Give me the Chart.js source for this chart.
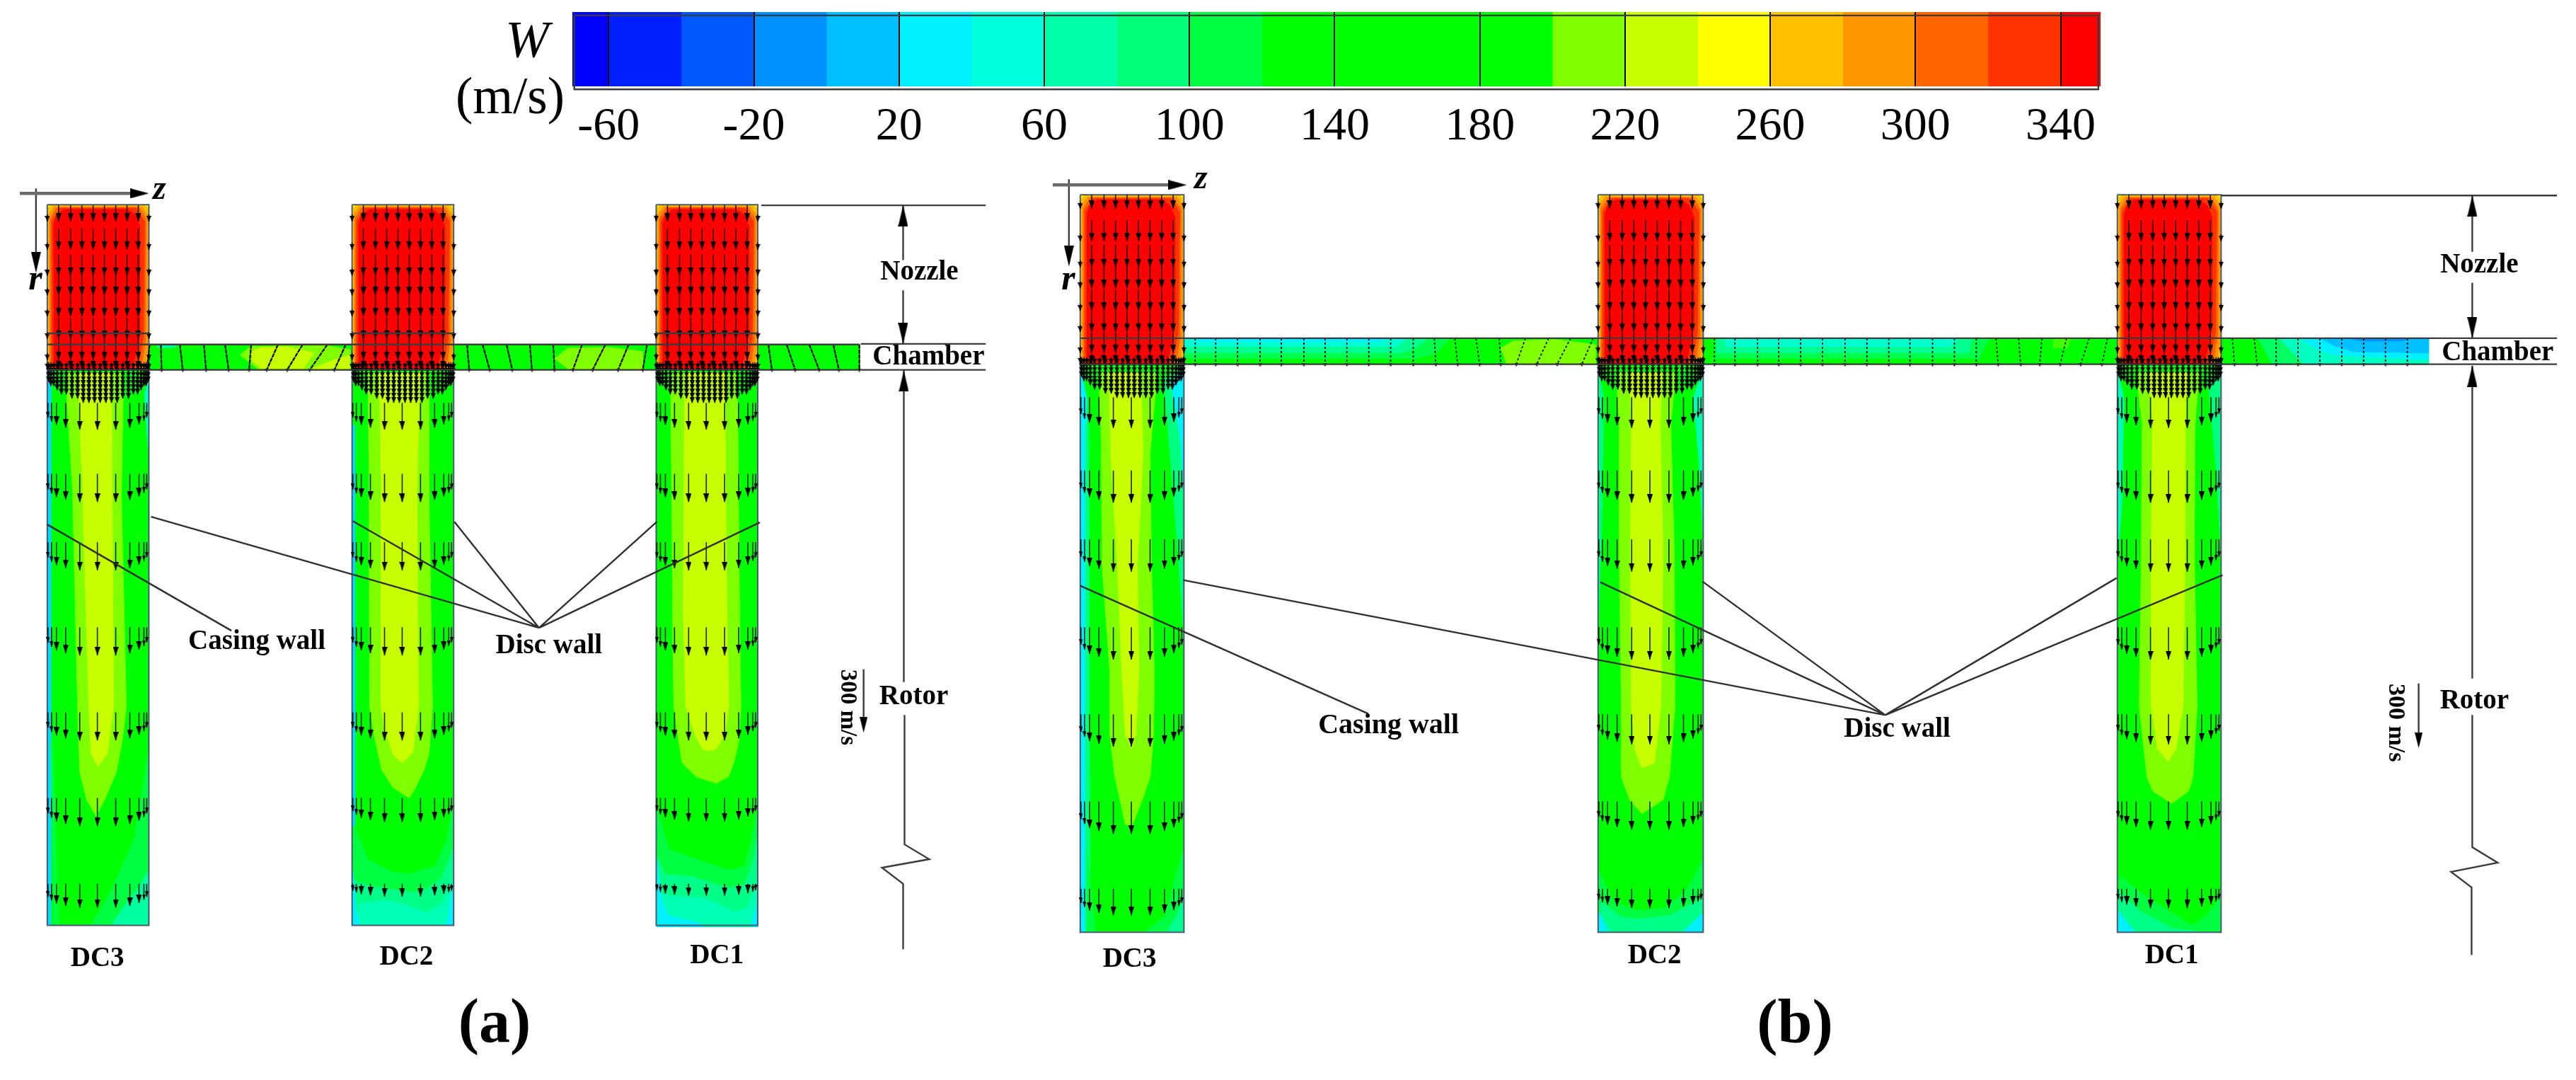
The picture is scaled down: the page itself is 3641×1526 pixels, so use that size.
<!DOCTYPE html>
<html>
<head>
<meta charset="utf-8">
<title>W contours</title>
<script src="https://cdn.jsdelivr.net/npm/chart.js@4/dist/chart.umd.js"></script>
<style>
  html, body { margin: 0; background: #fff; overflow: hidden; }
  canvas { position: absolute; left: 0; top: 0; }
</style>
</head>
<body>
<canvas id="barChart" width="3641" height="260"></canvas>
<canvas id="fieldChart" width="3641" height="1526"></canvas>
<script>
// colour scale
const bandEdges = [-70, -60, -40, -20, 0, 20, 40, 60, 80, 100, 120, 140, 160, 180, 200, 220, 240, 260, 280, 300, 320, 340, 351];
const bandColors = ['#0000ff', '#0020ff', '#0058ff', '#0090ff', '#00c0ff', '#00f0ff', '#00ffdc', '#00ffaa', '#00ff78', '#00ff40',
  '#00ff00', '#00ff00', '#00ff00', '#00ff00', '#7fff00', '#c8ff00', '#ffff00', '#ffc000', '#ff9600', '#ff6400', '#ff3200', '#ff0000'];
const colorTicks = [-60, -20, 20, 60, 100, 140, 180, 220, 260, 300, 340];

// column walls, panel (a) and (b)
const aWalls = [[62, 206], [494, 638], [925, 1069]];
const bWalls = [[1526, 1673], [2260, 2409], [2996, 3143]];

// nozzle contours, offset from column left / nozzle top
const nozzleLayers = [
  ['#ffff00', [[0, 0], [144, 0], [144, 234], [0, 234]]],
  ['#ffc000', [[1, 5], [6, 1], [138, 1], [143, 5], [143, 215], [141, 234], [1, 234]]],
  ['#ff9600', [[2, 14], [10, 3], [134, 3], [142, 14], [142, 205], [138, 234], [2, 234]]],
  ['#ff6400', [[4, 20], [14, 4], [130, 4], [140, 20], [139, 195], [133, 234], [4, 234]]],
  ['#ff3200', [[6, 24], [18, 5], [126, 5], [138, 24], [136, 190], [128, 234], [6, 234]]],
  ['#ff0000', [[9, 30], [13, 15], [24, 7], [114, 7], [125, 15], [131, 30], [131, 185], [126, 210], [120, 234], [9, 234]]]
];

// rotor contours, panel (a)
const a3Rotor = [
  ['#00d8ff', [[62, 520], [67, 520], [67, 1311], [62, 1311]]],
  ['#00ffc0', [[206, 530], [200, 555], [204, 620], [206, 640]]],
  ['#00ff40', [[67, 1050], [72, 1311], [78, 1311], [70, 1050]]],
  ['#7fff00', [[87, 525], [170, 525], [167, 700], [174, 1000], [168, 1050], [160, 1093], [143, 1133], [131, 1155], [118, 1133], [108, 1093], [105, 1000], [98, 700]]],
  ['#c8ff00', [[105, 525], [153, 525], [154, 700], [156, 1000], [147, 1067], [134, 1085], [124, 1067], [121, 1000], [112, 700]]],
  ['#00ff40', [[124, 1311], [153, 1260], [185, 1190], [200, 1100], [206, 1060], [206, 1311]]],
  ['#00ffa0', [[153, 1311], [170, 1285], [190, 1260], [206, 1233], [206, 1311]]]
];
const a2Rotor = [
  ['#00d8ff', [[494, 600], [498, 600], [498, 1311], [494, 1311]]],
  ['#7fff00', [[516, 525], [603, 525], [603, 700], [608, 1000], [603, 1067], [596, 1090], [584, 1115], [575, 1130], [552, 1115], [536, 1090], [525, 1040], [519, 1000], [518, 700]]],
  ['#c8ff00', [[532, 525], [590, 525], [586, 700], [588, 1000], [580, 1065], [565, 1080], [552, 1068], [540, 1030], [535, 1000], [535, 700]]],
  ['#00ff40', [[497, 1170], [516, 1217], [550, 1235], [574, 1238], [612, 1227], [628, 1190], [638, 1130], [638, 1311], [494, 1311], [494, 1170]]],
  ['#00ff88', [[494, 1248], [529, 1257], [560, 1262], [590, 1265], [620, 1245], [638, 1200], [638, 1311], [494, 1311]]],
  ['#00ffb4', [[500, 1311], [505, 1280], [540, 1275], [574, 1283], [600, 1293], [622, 1280], [638, 1240], [638, 1311]]],
  ['#00f0ff', [[494, 1220], [500, 1290], [505, 1311], [494, 1311]]],
  ['#00f0ff', [[638, 1250], [630, 1300], [628, 1311], [638, 1311]]]
];
const a1Rotor = [
  ['#7fff00', [[945, 525], [1040, 525], [1043, 850], [1045, 1000], [1042, 1050], [1035, 1080], [1027, 1100], [1010, 1109], [982, 1100], [962, 1080], [957, 1050], [950, 1000], [948, 850]]],
  ['#c8ff00', [[965, 525], [1022, 525], [1025, 850], [1028, 1000], [1022, 1040], [1010, 1060], [1000, 1063], [990, 1060], [980, 1040], [967, 1000], [963, 850]]],
  ['#00ff40', [[928, 1150], [943, 1203], [983, 1217], [1030, 1233], [1050, 1227], [1060, 1190], [1067, 1150], [1069, 1120], [1069, 1313], [926, 1313], [926, 1150]]],
  ['#00ff88', [[928, 1217], [937, 1238], [977, 1242], [1027, 1258], [1050, 1253], [1063, 1217], [1069, 1183], [1069, 1313], [926, 1313], [926, 1217]]],
  ['#00ffb4', [[930, 1263], [937, 1268], [993, 1272], [1037, 1292], [1053, 1287], [1065, 1260], [1069, 1243], [1069, 1313], [926, 1313], [926, 1263]]],
  ['#00f0ff', [[926, 1217], [933, 1277], [943, 1298], [987, 1308], [993, 1313], [926, 1313]]],
  ['#00f0ff', [[1069, 1280], [1063, 1297], [1060, 1313], [1069, 1313]]]
];

// rotor contours, panel (b)
const b3Rotor = [
  ['#00f0ff', [[1526, 513], [1535, 560], [1535, 1321], [1526, 1321]]],
  ['#00ff80', [[1533, 600], [1538, 600], [1540, 1321], [1533, 1321]]],
  ['#00ff80', [[1673, 513], [1645, 535], [1650, 600], [1660, 720], [1673, 900]]],
  ['#00f0ff', [[1673, 513], [1655, 540], [1660, 570], [1668, 620], [1673, 700]]],
  ['#7fff00', [[1552, 525], [1635, 525], [1625, 640], [1627, 800], [1631, 950], [1630, 1040], [1625, 1100], [1615, 1130], [1600, 1168], [1590, 1168], [1582, 1130], [1575, 1100], [1568, 1040], [1568, 950], [1557, 800], [1556, 640]]],
  ['#c8ff00', [[1566, 525], [1612, 525], [1615, 640], [1607, 800], [1609, 950], [1605, 1040], [1599, 1060], [1590, 1040], [1585, 950], [1579, 800], [1569, 640]]],
  ['#00ff40', [[1617, 1321], [1647, 1297], [1663, 1233], [1673, 1200], [1673, 1321]]],
  ['#00ff90', [[1648, 1321], [1663, 1297], [1673, 1270], [1673, 1321]]],
  ['#00ff40', [[1535, 1203], [1548, 1321], [1535, 1321]]]
];
const b2Rotor = [
  ['#00ff80', [[2260, 520], [2268, 560], [2266, 720], [2260, 900]]],
  ['#00ffb0', [[2409, 520], [2395, 560], [2403, 650], [2409, 760]]],
  ['#7fff00', [[2285, 525], [2370, 525], [2363, 600], [2368, 780], [2369, 1000], [2361, 1100], [2352, 1133], [2322, 1152], [2305, 1133], [2293, 1100], [2293, 1000], [2290, 780], [2290, 600]]],
  ['#c8ff00', [[2304, 525], [2350, 525], [2348, 600], [2352, 780], [2349, 1000], [2340, 1080], [2322, 1087], [2312, 1060], [2307, 1000], [2306, 780], [2307, 600]]],
  ['#00ff40', [[2261, 1233], [2281, 1277], [2316, 1290], [2352, 1287], [2387, 1260], [2408, 1217], [2409, 1320], [2260, 1320]]],
  ['#00ff88', [[2264, 1277], [2293, 1300], [2316, 1302], [2363, 1297], [2399, 1277], [2408, 1267], [2409, 1320], [2260, 1320]]],
  ['#00f0ff', [[2261, 1293], [2275, 1318], [2260, 1320]]],
  ['#00f0ff', [[2408, 1293], [2381, 1320], [2409, 1320]]]
];
const b1Rotor = [
  ['#00ffb0', [[2996, 520], [3005, 560], [3003, 700], [2996, 800]]],
  ['#00ff80', [[3143, 520], [3125, 540], [3135, 650], [3143, 780]]],
  ['#7fff00', [[3022, 525], [3112, 525], [3106, 600], [3105, 780], [3109, 1000], [3103, 1100], [3097, 1120], [3073, 1138], [3046, 1120], [3038, 1100], [3027, 1000], [3030, 780], [3031, 600]]],
  ['#c8ff00', [[3040, 525], [3094, 525], [3092, 600], [3092, 780], [3089, 1000], [3079, 1060], [3068, 1078], [3053, 1060], [3044, 1000], [3044, 780], [3046, 600]]],
  ['#00ff40', [[2999, 1240], [3032, 1267], [3103, 1312], [3126, 1293], [3143, 1267], [3143, 1320], [2996, 1320]]],
  ['#00ff88', [[2997, 1260], [3027, 1290], [3073, 1315], [3108, 1320], [2996, 1320]]],
  ['#00f0ff', [[2997, 1290], [3020, 1320], [2996, 1320]]]
];

// chamber contours
const aChamber = [
  ['#00ff00', [[206, 485], [1213, 485], [1213, 521], [206, 521]]],
  ['#00ff90', [[215, 485], [250, 485], [240, 490], [220, 490]]],
  ['#7fff00', [[335, 500], [350, 488], [400, 487], [460, 487], [491, 492], [491, 520], [430, 520], [360, 520]]],
  ['#c8ff00', [[351, 495], [365, 489], [400, 488], [440, 497], [425, 519], [365, 519], [352, 508]]],
  ['#c8ff00', [[440, 518], [470, 506], [491, 500], [491, 520], [440, 520]]],
  ['#7fff00', [[781, 505], [800, 490], [860, 489], [906, 495], [906, 520], [800, 520]]]
];
const bChamber = [
  ['#00ff00', [[1673, 476], [3437, 476], [3437, 513], [1673, 513]]],
  ['#00ff48', [[1673, 476], [2050, 476], [2030, 498], [2000, 505], [1673, 505]]],
  ['#00ff90', [[1673, 476], [2020, 476], [2000, 490], [1980, 497], [1673, 497]]],
  ['#00ffd0', [[1673, 476], [1990, 476], [1975, 488], [1673, 488]]],
  ['#00f0ff', [[1680, 476], [1960, 476], [1950, 481], [1690, 481]]],
  ['#7fff00', [[2122, 490], [2140, 480], [2200, 478], [2256, 485], [2256, 513], [2130, 513]]],
  ['#00ff48', [[2425, 476], [2815, 476], [2800, 505], [2425, 505]]],
  ['#00ff90', [[2428, 476], [2790, 476], [2785, 497], [2428, 497]]],
  ['#00ffd0', [[2440, 476], [2770, 476], [2760, 488], [2440, 488]]],
  ['#40ff00', [[2905, 476], [2930, 476], [2925, 490], [2905, 490]]],
  ['#00ff60', [[3195, 476], [3437, 476], [3437, 513], [3215, 513]]],
  ['#00ffc0', [[3225, 476], [3437, 476], [3437, 513], [3260, 513]]],
  ['#00f0ff', [[3255, 476], [3437, 476], [3437, 506], [3305, 500], [3275, 490]]],
  ['#00c0ff', [[3283, 476], [3437, 476], [3437, 497], [3330, 495], [3300, 485]]],
  ['#0090ff', [[3320, 476], [3410, 476], [3400, 480], [3340, 480]]]
];

// velocity arrows
const aNozzleTails = [287, 320, 357, 385, 416, 447, 477, 507];
const aNozzleTips = [310, 350, 387, 415, 445, 477, 507, 520];
const bNozzleTails = [272, 308, 343, 375, 407, 438, 468, 498];
const bNozzleTips = [292, 338, 375, 405, 437, 467, 497, 512];
const nozzleOffsets = [0, 16, 33, 49, 65, 81, 97, 113, 129, 144];
const rotorOffsets = [1, 6, 13, 26, 46, 71, 97, 117, 130, 137, 141];
const aRotorLengths = [22, 28, 33, 37, 40, 40, 40, 37, 32, 27, 22];
const bRotorLengths = [25, 32, 38, 42, 46, 46, 46, 42, 37, 30, 25];
const aRotorRows = [568, 669, 766, 887, 1008, 1130, 1252];
const bRotorRows = [560, 664, 762, 887, 1011, 1135, 1259];
const aRowScales = [[0.95, 1, 1, 1, 1, 1, 0.85], [0.95, 1, 1, 1, 1, 0.85, 0.45], [0.95, 1, 1, 1, 1, 0.83, 0.42]];
const bRowScales = [[0.95, 1, 1, 1, 1, 1, 0.82], [0.95, 1, 1, 1, 0.93, 0.87, 0.6], [0.95, 1, 1, 1, 0.93, 0.87, 0.6]];
const denseOffsets = [2, 5, 9, 14, 20, 27, 35, 43, 51, 59, 67, 75, 83, 91, 99, 107, 115, 122, 128, 133, 137, 140, 143];
const denseDepths = [20, 24, 28, 33, 37, 41, 44, 47, 48, 49, 50, 50, 50, 49, 48, 47, 44, 41, 37, 33, 28, 24, 20];
const denseRows = [-10, -4, 2, 8, 14, 20, 26, 32, 38];

// chamber streaks [top, bottom]
const aStreaks = [[207, 203], [223, 224], [250, 254], [284, 287], [314, 319], [351, 348], [389, 373], [424, 402], [459, 434], [485, 469],
  [657, 660], [679, 689], [713, 721], [746, 749], [779, 781], [820, 807], [853, 835], [886, 871], [912, 906],
  [1084, 1089], [1110, 1122], [1142, 1156], [1176, 1184], [1213, 1213]];
const bStreaks = [[1689, 1689], [1718, 1718], [1749, 1749], [1781, 1781], [1811, 1811], [1843, 1843], [1873, 1873], [1904, 1904], [1935, 1935], [1966, 1966], [1998, 1998],
  [2028, 2030], [2057, 2061], [2087, 2092], [2120, 2122], [2157, 2144], [2190, 2173], [2221, 2202], [2253, 2237],
  [2425, 2425], [2454, 2454], [2486, 2486], [2516, 2516], [2547, 2547], [2578, 2578], [2610, 2610], [2641, 2641], [2672, 2672], [2702, 2702], [2734, 2734], [2765, 2765], [2796, 2796],
  [2824, 2827], [2856, 2859], [2889, 2886], [2924, 2915], [2956, 2944], [2982, 2974],
  [3159, 3162], [3190, 3194], [3221, 3221], [3252, 3252], [3283, 3283], [3314, 3314], [3345, 3345], [3376, 3376], [3407, 3407]];

// thin lines of the sketch
const leaderLines = [
  [[62, 741], [323, 892]], [[209, 730], [759, 888]], [[495, 736], [759, 888]], [[639, 737], [759, 888]], [[926, 737], [759, 888]], [[1072, 738], [759, 888]],
  [[1526, 828], [1934, 1010]], [[1672, 820], [2667, 1012]], [[2263, 823], [2667, 1012]], [[2408, 822], [2667, 1012]], [[2995, 817], [2667, 1012]], [[3145, 813], [2667, 1012]]
];
const guideLines = [
  [[1074, 287], [1392, 287]], [[1215, 484], [1392, 484]], [[1215, 521], [1392, 521]],
  [[1275, 287], [1275, 365]], [[1275, 408], [1275, 484]], [[1276, 522], [1276, 965]],
  [[1277, 1012], [1277, 1196], [1312, 1217], [1245, 1229], [1275, 1252], [1275, 1345]],
  [[3143, 273], [3619, 273]], [[3437, 476], [3619, 476]], [[3437, 513], [3619, 513]],
  [[3499, 273], [3499, 353]], [[3499, 397], [3499, 476]], [[3499, 515], [3499, 960]],
  [[3499, 1012], [3499, 1200], [3535, 1222], [3469, 1235], [3498, 1257], [3498, 1353]],
  [[1219, 947], [1219, 1030]], [[3423, 967], [3423, 1050]],
  [[46, 263], [46, 365]], [[1510, 250], [1510, 350]],
  [[809, 17], [2969, 17], [2969, 122], [809, 122], [809, 17]],
  [[62, 469], [206, 469]], [[494, 469], [638, 469]], [[925, 469], [1069, 469]],
  [[62, 485], [1213, 485]], [[62, 521], [1213, 521]], [[1526, 476], [3437, 476]], [[1526, 513], [3437, 513]]
];
const zAxisLines = [[[23, 270], [195, 270]], [[1487, 258], [1665, 258]]];
// big head tips [x, tip y, direction]
const bigHeads = [[1275, 287, 'up'], [1275, 484, 'down'], [1276, 522, 'up'], [3499, 273, 'up'], [3499, 476, 'down'], [3499, 515, 'up'], [46, 383, 'down'], [1510, 374, 'down']];
const scaleHeads = [[1219, 1036], [3423, 1058]];
const sideHeads = [[205, 270], [1676, 258]];

// text on the sketch
const labelTexts = ['W', '(m/s)', 'z', 'r', 'Nozzle', 'Chamber', 'Rotor', 'Casing wall', 'Disc wall', 'DC3', 'DC2', 'DC1', '300 m/s', '(a)',
  'z', 'r', 'Nozzle', 'Chamber', 'Rotor', 'Casing wall', 'Disc wall', 'DC3', 'DC2', 'DC1', '300 m/s', '(b)'];
const labelX = [742, 718, 221, 45, 1298, 1311, 1290, 359, 773, 133, 571, 1011, 1196, 696,
  1697, 1509, 3509, 3535, 3502, 1963, 2684, 1596, 2340, 3073, 3390, 2539];
const labelY = [76, 156, 278, 407, 393, 513, 997, 918, 924, 1369, 1367, 1365, 1001, 1477,
  263, 407, 383, 507, 1003, 1038, 1043, 1370, 1365, 1365, 1023, 1478];
const labelFonts = ['italic 74px', '73px', 'italic bold 48px', 'italic bold 50px', 'bold 39px', 'bold 39px', 'bold 39px', 'bold 39px', 'bold 39px', 'bold 39px', 'bold 39px', 'bold 39px', 'bold 33px', 'bold 88px',
  'italic bold 48px', 'italic bold 50px', 'bold 39px', 'bold 39px', 'bold 39px', 'bold 40px', 'bold 39px', 'bold 39px', 'bold 39px', 'bold 39px', 'bold 34px', 'bold 88px'];
const labelTurned = [12, 24];

const makeHead = (w, h, dir) => {
  const c = document.createElement('canvas');
  c.width = w; c.height = h;
  const g = c.getContext('2d');
  g.fillStyle = '#000';
  g.beginPath();
  if (dir === 'down') { g.moveTo(0, 0); g.lineTo(w, 0); g.lineTo(w / 2, h); }
  if (dir === 'up') { g.moveTo(0, h); g.lineTo(w, h); g.lineTo(w / 2, 0); }
  if (dir === 'right') { g.moveTo(0, 0); g.lineTo(0, h); g.lineTo(w, h / 2); }
  g.fill();
  return c;
};

const fieldSets = [];

const addPoly = (pts, color) => {
  fieldSets.push({
    data: pts.map(p => ({ x: p[0], y: p[1] })),
    showLine: true, fill: 'shape', backgroundColor: color, borderColor: color, borderWidth: 1, pointRadius: 0, tension: 0
  });
};

const addLines = (lines, color, width, dash) => {
  let pts = [];
  lines.forEach(l => {
    l.forEach(p => pts.push({ x: p[0], y: p[1] }));
    pts.push({ x: NaN, y: NaN });
  });
  fieldSets.push({ data: pts, showLine: true, fill: false, borderColor: color, borderWidth: width, borderDash: dash || [], pointRadius: 0, tension: 0 });
};

const addHeads = (pts, img) => {
  fieldSets.push({ data: pts.map(p => ({ x: p[0], y: p[1] })), showLine: false, pointStyle: img, pointRadius: 3, rotation: 0 });
};

// contours
aWalls.forEach(w => addPoly([[w[0], 520], [w[1], 520], [w[1], 1311], [w[0], 1311]], '#00ff00'));
bWalls.forEach(w => addPoly([[w[0], 513], [w[1], 513], [w[1], 1320], [w[0], 1320]], '#00ff00'));
aChamber.concat(bChamber).forEach(l => addPoly(l[1], l[0]));
[a3Rotor, a2Rotor, a1Rotor, b3Rotor, b2Rotor, b1Rotor].forEach(r => r.forEach(l => addPoly(l[1], l[0])));
aWalls.forEach(w => nozzleLayers.forEach(l => addPoly(l[1].map(p => [w[0] + p[0] * (w[1] - w[0]) / 144, 286 + p[1]]), l[0])));
bWalls.forEach(w => nozzleLayers.forEach(l => addPoly(l[1].map(p => [w[0] + p[0] * (w[1] - w[0]) / 144, 272 + p[1] * 241 / 234]), l[0])));

// column outlines
const outlines = [];
aWalls.forEach(w => outlines.push([[w[0], 286], [w[1], 286], [w[1], 1311], [w[0], 1311], [w[0], 286]]));
bWalls.forEach(w => outlines.push([[w[0], 272], [w[1], 272], [w[1], 1321], [w[0], 1321], [w[0], 272]]));
addLines(outlines, '#4a5a70', 2);

// arrows
const shafts = [];
const heads = [];
const edgeHeads = [];
const smallHeads = [];
const tinyHeads = [];

const addNozzle = (walls, tails, tips) => {
  walls.forEach(w => {
    const f = (w[1] - w[0]) / 144;
    tails.forEach((t, r) => {
      nozzleOffsets.forEach((o, i) => {
        const x = w[0] + o * f;
        if (i === 0 || i === nozzleOffsets.length - 1) {
          shafts.push([[x, tips[r] - 10], [x, tips[r]]]);
          smallHeads.push([x, tips[r] - 4]);
        } else {
          shafts.push([[x, t], [x, tips[r]]]);
          heads.push([x, tips[r] - 6]);
        }
      });
    });
  });
};

const addRotor = (walls, rows, lengths, scales, bottom) => {
  walls.forEach((w, c) => {
    const f = (w[1] - w[0]) / 144;
    rows.forEach((t, r) => {
      rotorOffsets.forEach((o, i) => {
        const x = w[0] + o * f;
        const tip = t + lengths[i] * scales[c][r];
        shafts.push([[x, t], [x, tip]]);
        if (i < 2 || i > 8) edgeHeads.push([x, tip - 4]);
        else heads.push([x, tip - 6]);
      });
    });
    denseOffsets.forEach((o, i) => {
      denseRows.forEach(d => {
        if (d + 10 <= denseDepths[i]) {
          const x = w[0] + o * f;
          shafts.push([[x, bottom + d], [x, bottom + d + 10]]);
          smallHeads.push([x, bottom + d + 6]);
        }
      });
    });
  });
};

addNozzle(aWalls, aNozzleTails, aNozzleTips);
addNozzle(bWalls, bNozzleTails, bNozzleTips);
addRotor(aWalls, aRotorRows, aRotorLengths, aRowScales, 520);
addRotor(bWalls, bRotorRows, bRotorLengths, bRowScales, 513);

addLines(shafts, 'rgba(0,0,0,0.85)', 1.6);
addHeads(heads, makeHead(8, 12, 'down'));
addHeads(edgeHeads, makeHead(5, 8, 'down'));
addHeads(smallHeads, makeHead(7, 8, 'down'));

addLines(aStreaks.map(s => [[s[0], 485], [s[1], 521]]), '#000', 2.2, [6, 1]);
addLines(bStreaks.map(s => [[s[0], 476], [s[1], 513]]), '#000', 1.8, [3, 3]);
aStreaks.forEach(s => tinyHeads.push([s[1], 522]));
bStreaks.forEach(s => tinyHeads.push([s[1], 514]));
addHeads(tinyHeads, makeHead(5, 5, 'down'));

// annotation lines
addLines(guideLines, '#3c3c3c', 2.4);
addLines(zAxisLines, '#6a6a6a', 4.5);
addLines(leaderLines, '#303030', 2.4);
addHeads(bigHeads.filter(h => h[2] === 'down').map(h => [h[0], h[1] - 15]), makeHead(14, 30, 'down'));
addHeads(bigHeads.filter(h => h[2] === 'up').map(h => [h[0], h[1] + 15]), makeHead(14, 30, 'up'));
addHeads(scaleHeads.map(h => [h[0], h[1] - 10]), makeHead(11, 22, 'down'));
addHeads(sideHeads.map(h => [h[0] - 12, h[1]]), makeHead(26, 14, 'right'));

const textPlugin = {
  id: 'sketchText',
  afterDatasetsDraw(chart) {
    const { ctx, scales } = chart;
    ctx.save();
    ctx.fillStyle = '#000';
    ctx.textAlign = 'center';
    labelTexts.forEach((t, i) => {
      const px = scales.x.getPixelForValue(labelX[i]);
      const py = scales.y.getPixelForValue(labelY[i]);
      ctx.font = labelFonts[i] + ' "Liberation Serif", serif';
      if (labelTurned.includes(i)) {
        ctx.save();
        ctx.translate(px, py);
        ctx.rotate(Math.PI / 2);
        ctx.textBaseline = 'middle';
        ctx.fillText(t, 0, 0);
        ctx.restore();
      } else {
        ctx.textBaseline = 'alphabetic';
        ctx.fillText(t, px, py);
      }
    });
    ctx.restore();
  }
};

new Chart(document.getElementById('fieldChart'), {
  type: 'scatter',
  data: { datasets: fieldSets.slice().reverse() },
  options: {
    responsive: false,
    animation: false,
    devicePixelRatio: 1,
    layout: { padding: 0 },
    plugins: { legend: { display: false }, tooltip: { enabled: false } },
    scales: {
      x: { type: 'linear', min: 0, max: 3641, display: false },
      y: { type: 'linear', min: 0, max: 1526, reverse: true, display: false }
    }
  },
  plugins: [textPlugin]
});

// colour bar
new Chart(document.getElementById('barChart'), {
  type: 'bar',
  data: {
    labels: ['W'],
    datasets: bandColors.map((c, i) => ({
      data: [[bandEdges[i], bandEdges[i + 1]]],
      backgroundColor: c,
      grouped: false,
      barPercentage: 1,
      categoryPercentage: 1
    }))
  },
  options: {
    indexAxis: 'y',
    responsive: false,
    animation: false,
    devicePixelRatio: 1,
    layout: { padding: { left: 809, right: 672, top: 17, bottom: 0 } },
    plugins: { legend: { display: false }, tooltip: { enabled: false } },
    scales: {
      y: { display: false },
      x: {
        type: 'linear',
        min: -70,
        max: 351,
        afterBuildTicks: s => { s.ticks = colorTicks.map(v => ({ value: v })); },
        afterFit: s => { s.height = 138; },
        border: { display: false },
        grid: { color: '#000', lineWidth: 2, z: 1, drawTicks: false },
        ticks: {
          padding: 18,
          autoSkip: false,
          maxRotation: 0,
          color: '#000',
          font: { family: '"Liberation Serif", serif', size: 66 }
        }
      }
    }
  }
});
</script>
</body>
</html>
